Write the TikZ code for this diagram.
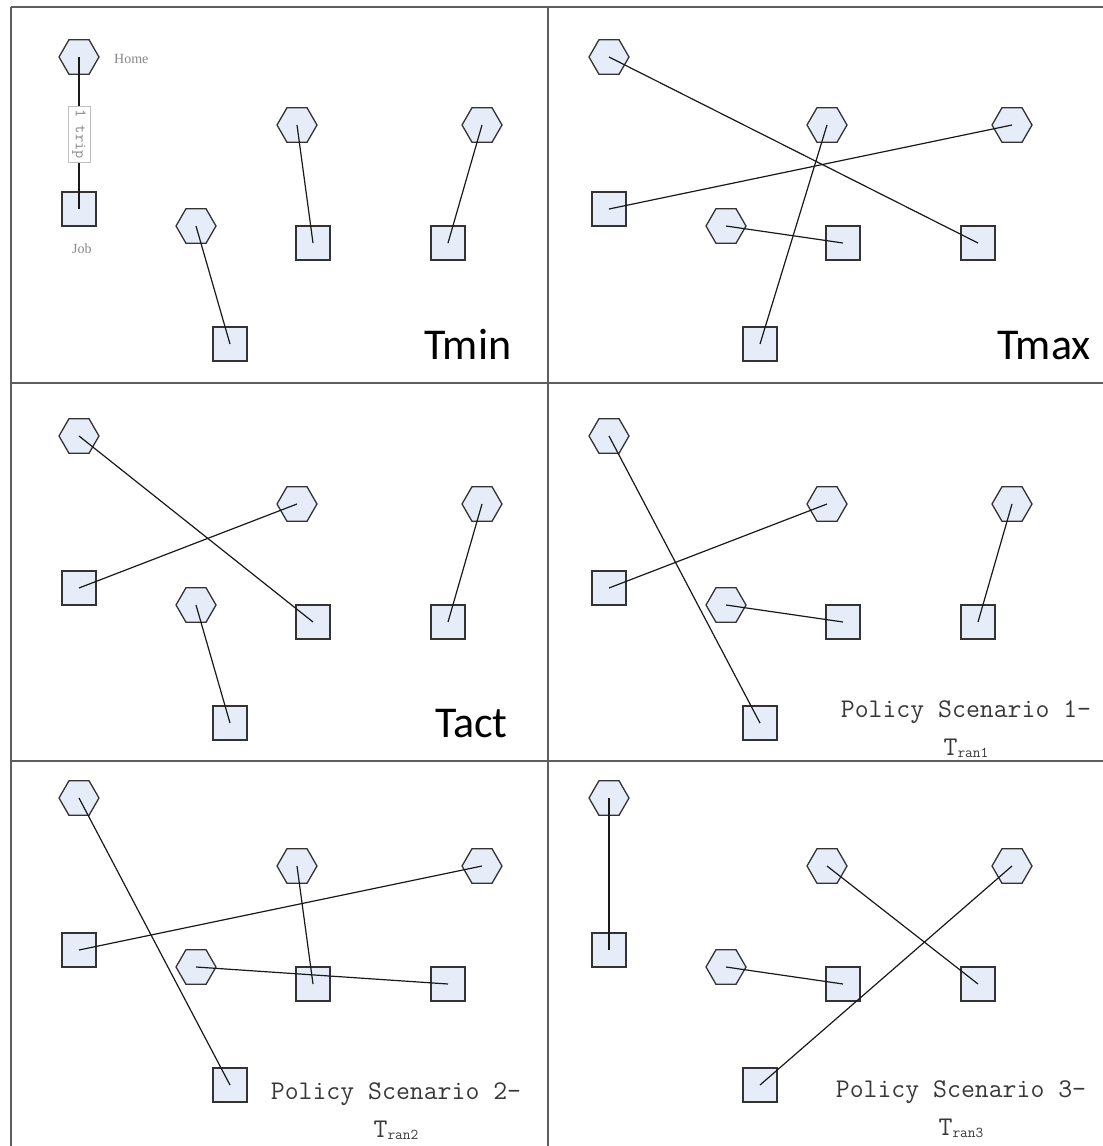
\documentclass[tikz,border=0pt]{standalone}
\usepackage{fontspec}
\setmainfont{Liberation Serif}
\newfontfamily\calfont{Carlito}
\usetikzlibrary{shapes.geometric}
\definecolor{nodefill}{HTML}{E6ECF8}
\definecolor{framec}{HTML}{5E5E5E}
\definecolor{lblc}{HTML}{888888}
\newcommand\mkpanel[3]{%
  \begin{scope}[shift={(#2,#3)}]
    \node[homenode] (#1h1) at (79,57) {};
    \node[homenode] (#1h2) at (297,125) {};
    \node[homenode] (#1h3) at (482,125) {};
    \node[homenode] (#1h4) at (196,226) {};
    \node[jobnode] (#1s1) at (79,209) {};
    \node[jobnode] (#1s2) at (313,243) {};
    \node[jobnode] (#1s3) at (448,243) {};
    \node[jobnode] (#1s4) at (230,344) {};
  \end{scope}}
\newcommand\tripline[2]{\draw[tripline] (#1.center) -- (#2.center);}
\newcommand\subran[1]{T\raisebox{-2pt}{\fontsize{15}{15}\selectfont ran#1}}
\begin{document}
\begin{tikzpicture}[x=1pt,y=-1pt,
  homenode/.style={regular polygon, regular polygon sides=6, minimum size=40pt,
    inner sep=0pt, fill=nodefill, draw=black!80, line width=1.3pt},
  jobnode/.style={rectangle, minimum size=34pt, inner sep=0pt, fill=nodefill,
    draw=black!80, line width=1.3pt},
  tripline/.style={draw=black!90, line width=1.2pt},
  framel/.style={draw=framec, line width=1.8pt},
  biglbl/.style={anchor=base west, inner sep=0pt, font=\calfont\fontsize{44}{50}\selectfont},
  pollbl/.style={anchor=base, inner sep=0pt, align=center, text=black!78,
    font=\ttfamily\fontsize{27}{38}\selectfont},
  smalllbl/.style={anchor=west, inner sep=0pt, text=lblc, font=\fontsize{14}{16}\selectfont}
]
\useasboundingbox (0,0) rectangle (1103,1146);
% frame
\draw[framel] (11,7) -- (1103,7);
\draw[framel] (11,7) -- (11,1146);
\draw[framel] (548,7) -- (548,1146);
\draw[framel] (11,383) -- (1103,383);
\draw[framel] (11,761) -- (1103,761);
% nodes
\mkpanel{a}{0}{0}
\mkpanel{b}{530}{0}
\mkpanel{c}{0}{379}
\mkpanel{d}{530}{379}
\mkpanel{e}{0}{741}
\mkpanel{f}{530}{741}
% Tmin
\tripline{ah1}{as1}\tripline{ah2}{as2}\tripline{ah3}{as3}\tripline{ah4}{as4}
% Tmax
\tripline{bh1}{bs3}\tripline{bh2}{bs4}\tripline{bh3}{bs1}\tripline{bh4}{bs2}
% Tact
\tripline{ch1}{cs2}\tripline{ch2}{cs1}\tripline{ch3}{cs3}\tripline{ch4}{cs4}
% Policy 1
\tripline{dh1}{ds4}\tripline{dh2}{ds1}\tripline{dh3}{ds3}\tripline{dh4}{ds2}
% Policy 2
\tripline{eh1}{es4}\tripline{eh2}{es2}\tripline{eh3}{es1}\tripline{eh4}{es3}
% Policy 3
\tripline{fh1}{fs1}\tripline{fh2}{fs3}\tripline{fh3}{fs4}\tripline{fh4}{fs2}
% legend
\node[smalllbl] (homelbl) at (114,59) {Home};
\node[smalllbl] (joblbl) at (72,249) {Job};
\node[rotate=-90, draw=black!25, line width=0.6pt, fill=white, minimum width=56pt,
  minimum height=22pt, inner sep=1pt, text=lblc, font=\ttfamily\fontsize{16}{18}\selectfont]
  (trip) at (79,134) {1 trip};
% titles
\node[biglbl] (tmin) at (424,359) {Tmin};
\node[biglbl] (tmax) at (997,359) {Tmax};
\node[biglbl] (tact) at (435,737) {Tact};
\node[pollbl] (pol1) at (966,755) {Policy Scenario 1-\\\subran{1}};
\node[pollbl] (pol2) at (396,1137) {Policy Scenario 2-\\\subran{2}};
\node[pollbl] (pol3) at (961,1135) {Policy Scenario 3-\\\subran{3}};
\end{tikzpicture}
\end{document}
